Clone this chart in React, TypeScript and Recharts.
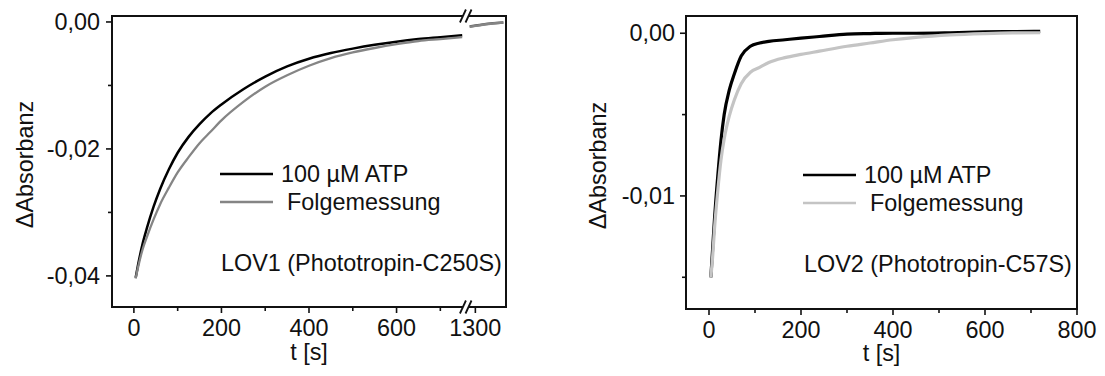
import React from 'react';
import { LineChart, Line, XAxis, YAxis, ReferenceArea, ReferenceDot, Legend } from 'recharts';

// ---------- LOV1 (Phototropin-C250S) ----------
const lov1Time = [4, 10, 20, 30, 45, 60, 80, 100, 125, 150, 175, 200, 250, 300, 350, 400, 450, 500, 550, 600, 650, 700, 750];
const lov1Atp = [
  -0.0403, -0.0381, -0.0349, -0.0324, -0.0291, -0.0263, -0.0232, -0.0206, -0.0181, -0.0161, -0.0144, -0.013,
  -0.0106, -0.0086, -0.007, -0.0058, -0.0049, -0.0042, -0.0036, -0.0031, -0.0027, -0.0024, -0.0021,
];
const lov1Folge = [
  -0.0404, -0.0385, -0.0358, -0.0338, -0.0311, -0.0287, -0.0261, -0.0237, -0.0213, -0.0191, -0.0173, -0.0155,
  -0.0126, -0.0102, -0.0084, -0.0069, -0.0057, -0.0048, -0.0041, -0.0035, -0.003, -0.0027, -0.0024,
];
// late section, shown after the axis break
const lov1LateTime = [1287, 1310, 1340, 1364];
const lov1LateAtp = [-0.0007, -0.00046, -0.00022, -0.00008];
const lov1LateFolge = [-0.00075, -0.0005, -0.00025, -0.0001];

const lov1XMajor = [0, 200, 400, 600, 1300];
const lov1XMinor = [100, 300, 500, 700];
const lov1YMajor = [0, -0.02, -0.04];
const lov1YMinor = [-0.01, -0.03];

// ---------- LOV2 (Phototropin-C57S) ----------
const lov2Time = [4, 8, 12, 19, 26, 33, 44, 55, 70, 90, 110, 130, 165, 200, 240, 300, 350, 400, 450, 525, 600, 660, 720];
const lov2Atp = [
  -0.015, -0.0132, -0.0114, -0.0088, -0.0066, -0.0050, -0.0035, -0.0025, -0.0014, -0.0008, -0.0006, -0.0005,
  -0.0004, -0.0003, -0.0002, -0.00005, -0.00002, 0, 0, 0.00003, 0.00008, 0.0001, 0.00012,
];
const lov2Folge = [
  -0.015, -0.0137, -0.012, -0.0097, -0.0078, -0.0065, -0.0051, -0.0041, -0.0031, -0.0024, -0.0021, -0.0018,
  -0.0015, -0.0013, -0.0011, -0.0008, -0.0006, -0.0004, -0.00025, -0.0001, -0.00002, 0.00002, 0.00003,
];

const lov2XMajor = [0, 200, 400, 600, 800];
const lov2XMinor = [100, 300, 500, 700];
const lov2YMajor = [0, -0.01];
const lov2YMinor = [-0.005, -0.015];

const legendAtp = '100 µM ATP';
const legendFolge = 'Folgemessung';
const lov1Title = 'LOV1 (Phototropin-C250S)';
const lov2Title = 'LOV2 (Phototropin-C57S)';
const yTitle = 'ΔAbsorbanz';
const xTitle = 't [s]';

// ---------- helpers ----------
const FONT = '"Liberation Sans", Arial, sans-serif';
const FS = 23.4;
const INK = '#111';

// broken time axis for LOV1: times past the gap are shifted left on the axis
const GAP_START = 1000;
const GAP_SHIFT = 520;
const BREAK_POS = 758;
const axisPos = (t: number) => (t > GAP_START ? t - GAP_SHIFT : t);

const toSeries = (times: number[], values: number[], map: (t: number) => number = (t) => t) =>
  times.map((t, i) => ({ x: map(t), y: values[i] }));

const fmtY = (v: number) => v.toFixed(2).replace('.', ',');

const makeXTick = (majorPos: number[], labelOf: (v: number) => string) => (props: any) => {
  const { x, y, payload } = props;
  const major = majorPos.some((m) => Math.abs(m - payload.value) < 1e-9);
  return (
    <g>
      <line x1={x} x2={x} y1={y} y2={y + (major ? 6 : 4)} stroke={INK} strokeWidth={1.6} />
      {major && (
        <text x={x} y={y + 21} textAnchor="middle" dominantBaseline="central" fontFamily={FONT} fontSize={FS} fill={INK}>
          {labelOf(payload.value)}
        </text>
      )}
    </g>
  );
};

const makeYTick = (majors: number[], gap: number) => (props: any) => {
  const { x, y, payload } = props;
  const major = majors.some((m) => Math.abs(m - payload.value) < 1e-9);
  return (
    <g>
      <line x1={x - (major ? 6 : 4)} x2={x} y1={y} y2={y} stroke={INK} strokeWidth={1.6} />
      {major && (
        <text x={x - gap} y={y} textAnchor="end" dominantBaseline="central" fontFamily={FONT} fontSize={FS} fill={INK}>
          {fmtY(payload.value)}
        </text>
      )}
    </g>
  );
};

const yLabel = (dx: number) => (props: any) => {
  const vb = props.viewBox || { x: 0, y: 0, width: 0, height: 0 };
  const cx = vb.x + dx;
  const cy = vb.y + vb.height / 2 + 3;
  return (
    <text x={cx} y={cy} transform={`rotate(-90, ${cx}, ${cy})`} textAnchor="middle" dominantBaseline="central" fontFamily={FONT} fontSize={FS} fill={INK}>
      {yTitle}
    </text>
  );
};

const xLabel = (dy: number) => (props: any) => {
  const vb = props.viewBox || { x: 0, y: 0, width: 0, height: 0 };
  return (
    <text x={vb.x + vb.width / 2} y={vb.y + dy} textAnchor="middle" dominantBaseline="central" fontFamily={FONT} fontSize={FS} fill={INK}>
      {xTitle}
    </text>
  );
};

// "//" break marker drawn across the frame line
const BreakMark = (props: any) => {
  const { cx, cy } = props;
  if (cx == null || cy == null) return <g />;
  const s = 2.8;
  return (
    <g>
      <polygon points={`${cx - s - 3},${cy + 6.5} ${cx - s + 3},${cy - 6.5} ${cx + s + 3},${cy - 6.5} ${cx + s - 3},${cy + 6.5}`} fill="#fff" />
      <line x1={cx - s - 3} y1={cy + 6.5} x2={cx - s + 3} y2={cy - 6.5} stroke={INK} strokeWidth={1.8} />
      <line x1={cx + s - 3} y1={cy + 6.5} x2={cx + s + 3} y2={cy - 6.5} stroke={INK} strokeWidth={1.8} />
    </g>
  );
};

const Key = ({ atpColor, folgeColor, title, textDx }: { atpColor: string; folgeColor: string; title: string; textDx: number }) => (
  <svg width={300} height={130} style={{ overflow: 'visible' }}>
    <line x1={10} x2={63} y1={24} y2={24} stroke={atpColor} strokeWidth={2.5} />
    <text x={10 + textDx} y={24} dominantBaseline="central" fontFamily={FONT} fontSize={FS} fill={INK}>{legendAtp}</text>
    <line x1={10} x2={63} y1={52} y2={52} stroke={folgeColor} strokeWidth={2.5} />
    <text x={16 + textDx} y={52} dominantBaseline="central" fontFamily={FONT} fontSize={FS} fill={INK}>{legendFolge}</text>
    <text x={11} y={113} dominantBaseline="central" fontFamily={FONT} fontSize={FS} fill={INK}>{title}</text>
  </svg>
);

// ---------- data for the charts ----------
const lov1AtpData = toSeries(lov1Time, lov1Atp, axisPos);
const lov1FolgeData = toSeries(lov1Time, lov1Folge, axisPos);
const lov1LateAtpData = toSeries(lov1LateTime, lov1LateAtp, axisPos);
const lov1LateFolgeData = toSeries(lov1LateTime, lov1LateFolge, axisPos);
const lov2AtpData = toSeries(lov2Time, lov2Atp);
const lov2FolgeData = toSeries(lov2Time, lov2Folge);

const lov1XDomain: [number, number] = [-50, 850];
const lov1YDomain: [number, number] = [-0.0449, 0.00094];
const lov2XDomain: [number, number] = [-50, 800];
const lov2YDomain: [number, number] = [-0.01695, 0.00106];

const lov1XMajorPos = lov1XMajor.map(axisPos);
const lov1XTicks = [...lov1XMajor, ...lov1XMinor].map(axisPos);
const lov1XLabel = (v: number) => {
  const i = lov1XMajorPos.findIndex((p) => Math.abs(p - v) < 1e-9);
  return i >= 0 ? String(lov1XMajor[i]) : '';
};

const BLACK = '#000';
const GRAY1 = '#858585';
const GRAY2 = '#c4c4c4';

export default function App() {
  return (
    <div style={{ position: 'absolute', left: 0, top: 0, width: 1105, height: 376, background: '#fff' }}>
      <div style={{ position: 'absolute', left: 0, top: 0 }}>
        <LineChart width={540} height={376} margin={{ top: 16, right: 34, bottom: 0, left: 0 }}>
          <XAxis
            type="number"
            dataKey="x"
            domain={lov1XDomain}
            allowDataOverflow
            ticks={lov1XTicks}
            interval={0}
            tickSize={0}
            tickMargin={0}
            tickLine={false}
            axisLine={false}
            height={69}
            tick={makeXTick(lov1XMajorPos, lov1XLabel)}
            label={xLabel(45)}
          />
          <YAxis
            type="number"
            dataKey="y"
            domain={lov1YDomain}
            allowDataOverflow
            ticks={[...lov1YMajor, ...lov1YMinor]}
            interval={0}
            tickSize={0}
            tickMargin={0}
            tickLine={false}
            axisLine={false}
            width={112}
            tick={makeYTick(lov1YMajor, 12)}
            label={yLabel(25)}
          />
          <ReferenceArea x1={lov1XDomain[0]} x2={lov1XDomain[1]} y1={lov1YDomain[0]} y2={lov1YDomain[1]} fill="none" stroke={INK} strokeWidth={2} ifOverflow="visible" />
          <Line data={lov1AtpData} dataKey="y" type="monotone" dot={false} stroke={BLACK} strokeWidth={2.5} isAnimationActive={false} />
          <Line data={lov1FolgeData} dataKey="y" type="monotone" dot={false} stroke={GRAY1} strokeWidth={2.3} isAnimationActive={false} />
          <Line data={lov1LateAtpData} dataKey="y" type="monotone" dot={false} stroke="#555" strokeWidth={2.5} isAnimationActive={false} />
          <Line data={lov1LateFolgeData} dataKey="y" type="monotone" dot={false} stroke={GRAY1} strokeWidth={2.5} isAnimationActive={false} />
          <ReferenceDot x={BREAK_POS} y={lov1YDomain[1]} r={1} ifOverflow="visible" shape={BreakMark} />
          <ReferenceDot x={BREAK_POS} y={lov1YDomain[0]} r={1} ifOverflow="visible" shape={BreakMark} />
          <Legend
            layout="horizontal"
            verticalAlign="middle"
            align="center"
            wrapperStyle={{ left: 210, top: 150, width: 300, height: 130 }}
            content={() => <Key atpColor={BLACK} folgeColor={GRAY1} title={lov1Title} textDx={61} />}
          />
        </LineChart>
      </div>
      <div style={{ position: 'absolute', left: 560, top: 0 }}>
        <LineChart width={545} height={376} margin={{ top: 16, right: 28, bottom: 0, left: 0 }}>
          <XAxis
            type="number"
            dataKey="x"
            domain={lov2XDomain}
            allowDataOverflow
            ticks={[...lov2XMajor, ...lov2XMinor]}
            interval={0}
            tickSize={0}
            tickMargin={0}
            tickLine={false}
            axisLine={false}
            height={67}
            tick={makeXTick(lov2XMajor, (v) => String(v))}
            label={xLabel(44)}
          />
          <YAxis
            type="number"
            dataKey="y"
            domain={lov2YDomain}
            allowDataOverflow
            ticks={[...lov2YMajor, ...lov2YMinor]}
            interval={0}
            tickSize={0}
            tickMargin={0}
            tickLine={false}
            axisLine={false}
            width={126}
            tick={makeYTick(lov2YMajor, 11)}
            label={yLabel(38)}
          />
          <ReferenceArea x1={lov2XDomain[0]} x2={lov2XDomain[1]} y1={lov2YDomain[0]} y2={lov2YDomain[1]} fill="none" stroke={INK} strokeWidth={2} ifOverflow="visible" />
          <Line data={lov2AtpData} dataKey="y" type="monotone" dot={false} stroke={BLACK} strokeWidth={3.2} isAnimationActive={false} />
          <Line data={lov2FolgeData} dataKey="y" type="monotone" dot={false} stroke={GRAY2} strokeWidth={3.2} isAnimationActive={false} />
          <Legend
            layout="horizontal"
            verticalAlign="middle"
            align="center"
            wrapperStyle={{ left: 233, top: 151, width: 300, height: 130 }}
            content={() => <Key atpColor={BLACK} folgeColor={GRAY2} title={lov2Title} textDx={61} />}
          />
        </LineChart>
      </div>
    </div>
  );
}
